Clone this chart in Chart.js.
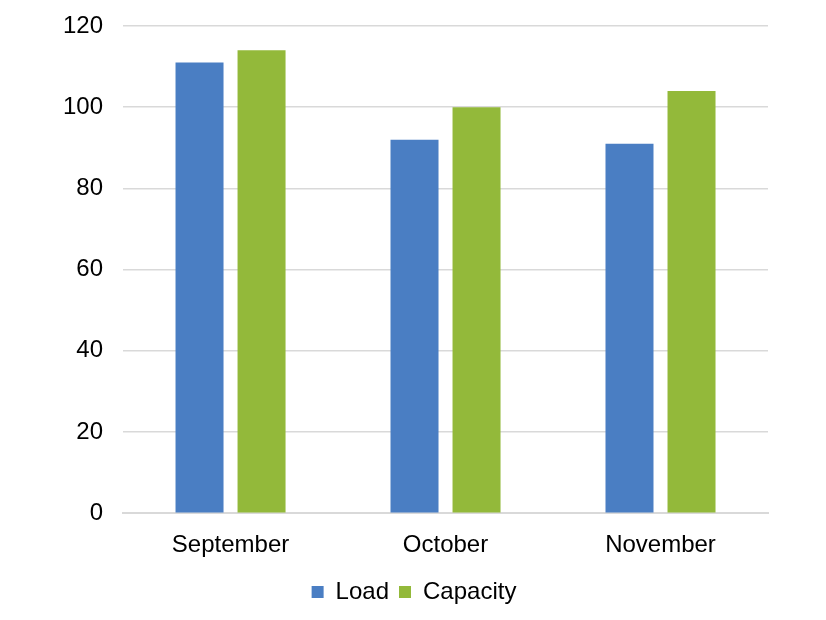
<!DOCTYPE html>
<html>
<head>
<meta charset="utf-8">
<script src="https://cdn.jsdelivr.net/npm/chart.js@4/dist/chart.umd.min.js"></script>
<style>
  html, body { margin: 0; padding: 0; background: #fff; }
  #wrap { width: 826px; height: 620px; }
</style>
</head>
<body>
<div id="wrap"><canvas id="chart"></canvas></div>
<script>
// values
const months = ['September', 'October', 'November'];
const load = [111, 92, 91];
const capacity = [114, 100, 104];
const yTicks = [0, 20, 40, 60, 80, 100, 120];

Chart.defaults.font.family = '"Liberation Sans", Arial, sans-serif';
Chart.defaults.color = '#000';

const ctx = document.getElementById('chart').getContext('2d');
const chart = new Chart(ctx, {
    type: 'bar',
    data: {
        labels: months,
        datasets: [{
            label: 'Load',
            data: load,
            backgroundColor: '#4a7ec3',
            categoryPercentage: 0.577,
            barPercentage: 0.774
        }, {
            label: 'Capacity',
            data: capacity,
            backgroundColor: '#93b93a',
            categoryPercentage: 0.577,
            barPercentage: 0.774
        }]
    },
    options: {
        responsive: true,
        maintainAspectRatio: false,
        animation: false,
        layout: { padding: { left: 60, right: 58, top: 26, bottom: 6 } },
        plugins: {
            legend: {
                position: 'bottom',
                labels: {
                    boxWidth: 12,
                    boxHeight: 12,
                    padding: 10,
                    font: { size: 24 }
                }
            },
            tooltip: { enabled: false }
        },
        scales: {
            x: {
                grid: { display: false },
                border: { color: '#d9d9d9', width: 2 },
                ticks: { font: { size: 24 }, padding: 10 }
            },
            y: {
                min: 0,
                max: 120,
                afterBuildTicks: axis => { axis.ticks = yTicks.map(v => ({ value: v })); },
                // invisible tick marks give the gap between labels and plot
                grid: { color: '#d9d9d9', lineWidth: 1.5, tickLength: 17, tickColor: 'rgba(0,0,0,0)' },
                border: { display: false },
                ticks: { font: { size: 24 }, padding: 3 }
            }
        }
    }
});
</script>
</body>
</html>
